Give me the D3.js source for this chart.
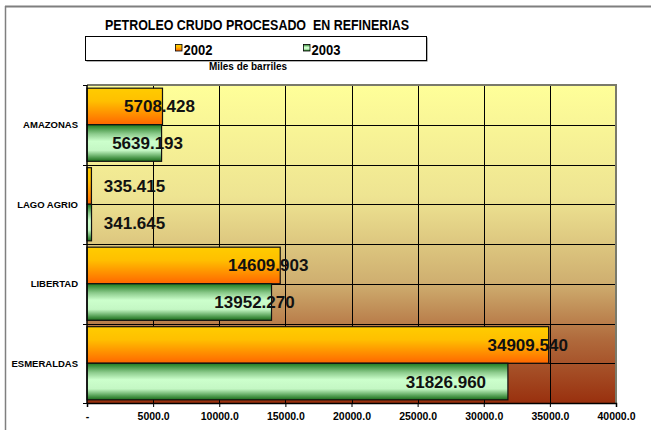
<!DOCTYPE html>
<html>
<head>
<meta charset="utf-8">
<script src="https://cdn.jsdelivr.net/npm/d3@7"></script>
<style>
  html, body { margin: 0; padding: 0; background: #fff; }
  svg { display: block; font-family: "Liberation Sans", Arial, sans-serif; }
</style>
</head>
<body>
<svg id="chart" width="651" height="430"></svg>
<script>
const categories = ["AMAZONAS", "LAGO AGRIO", "LIBERTAD", "ESMERALDAS"];
const seriesNames = ["2002", "2003"];
const values2002 = [5708.428, 335.415, 14609.903, 34909.540];
const values2003 = [5639.193, 341.645, 13952.270, 31826.960];
const tickValues = [0, 5000, 10000, 15000, 20000, 25000, 30000, 35000, 40000];
const tickLabels = ["-", "5000.0", "10000.0", "15000.0", "20000.0", "25000.0", "30000.0", "35000.0", "40000.0"];
const valueLabels2002 = ["5708.428", "335.415", "14609.903", "34909.540"];
const valueLabels2003 = ["5639.193", "341.645", "13952.270", "31826.960"];
// label centre offsets from bar end (layout, as positioned in the original)
const labelShift2002 = [-3, 43, -12, -21];
const labelShift2003 = [-14, 43, -17, -62];

const svg = d3.select("#chart");
const defs = svg.append("defs");

const plot = { left: 87, right: 616, top: 85, bottom: 403 };

// gradients
const bg = defs.append("linearGradient").attr("id", "bg").attr("x1", 0).attr("y1", 0).attr("x2", 0).attr("y2", 1);
[[0, "#FFFF99"], [0.35, "#EEE492"], [0.62, "#CFAF70"], [0.8, "#B06A3C"], [1, "#99300E"]].forEach(([o, c]) =>
  bg.append("stop").attr("offset", o).attr("stop-color", c));

const g02 = defs.append("linearGradient").attr("id", "g2002").attr("x1", 0).attr("y1", 0).attr("x2", 0).attr("y2", 1);
[[0, "#FFCC00"], [0.35, "#FFC000"], [1, "#FF6600"]].forEach(([o, c]) =>
  g02.append("stop").attr("offset", o).attr("stop-color", c));

const g03 = defs.append("linearGradient").attr("id", "g2003").attr("x1", 0).attr("y1", 0).attr("x2", 0).attr("y2", 1);
[[0, "#1F7A1F"], [0.25, "#8CCB8C"], [0.45, "#CCFFCC"], [0.7, "#C4F7C4"], [0.9, "#4E9A4E"], [1, "#1A6B1A"]].forEach(([o, c]) =>
  g03.append("stop").attr("offset", o).attr("stop-color", c));

// outer chart border
svg.append("line").attr("x1", 5).attr("y1", 6.5).attr("x2", 651).attr("y2", 6.5).attr("stroke", "#7f7f7f").attr("stroke-width", 2);
svg.append("line").attr("x1", 5.5).attr("y1", 6).attr("x2", 5.5).attr("y2", 430).attr("stroke", "#7f7f7f").attr("stroke-width", 1.5);

// scales
const x = d3.scaleLinear().domain([0, 40000]).range([plot.left, plot.right]);
const y = d3.scaleBand().domain(categories).range([plot.top, plot.bottom]).paddingInner(0.08).paddingOuter(0.04);
const ySub = d3.scaleBand().domain(seriesNames).range([0, y.bandwidth()]);
const step = (plot.bottom - plot.top) / categories.length;

// background
svg.append("rect").attr("x", plot.left).attr("y", plot.top)
  .attr("width", plot.right - plot.left).attr("height", plot.bottom - plot.top)
  .attr("fill", "url(#bg)");

// vertical gridlines
svg.append("g").selectAll("line").data(tickValues.slice(1)).join("line")
  .attr("x1", d => Math.round(x(d)) + 0.5).attr("x2", d => Math.round(x(d)) + 0.5)
  .attr("y1", plot.top).attr("y2", plot.bottom)
  .attr("stroke", "#000").attr("stroke-width", 1);

// horizontal gridlines at half-category steps
const hLines = d3.range(1, categories.length * 2).map(i => plot.top + i * step / 2);
svg.append("g").selectAll("line").data(hLines).join("line")
  .attr("x1", plot.left).attr("x2", plot.right)
  .attr("y1", d => Math.round(d) + 0.5).attr("y2", d => Math.round(d) + 0.5)
  .attr("stroke", "#000").attr("stroke-width", 1);

// plot border top/right
svg.append("path")
  .attr("d", `M${plot.left},${plot.top} H${plot.right} V${plot.bottom}`)
  .attr("fill", "none").attr("stroke", "#7a7a6a").attr("stroke-width", 2);

// bars
const flat = [];
categories.forEach((c, i) => {
  flat.push({ c, s: "2002", v: values2002[i], label: valueLabels2002[i], dx: labelShift2002[i] });
  flat.push({ c, s: "2003", v: values2003[i], label: valueLabels2003[i], dx: labelShift2003[i] });
});
svg.append("g").selectAll("rect").data(flat).join("rect")
  .attr("x", x(0))
  .attr("y", d => y(d.c) + ySub(d.s))
  .attr("width", d => x(d.v) - x(0))
  .attr("height", ySub.bandwidth())
  .attr("fill", d => d.s === "2002" ? "url(#g2002)" : "url(#g2003)")
  .attr("stroke", "#111").attr("stroke-width", 1.2);

// value labels
svg.append("g").selectAll("text").data(flat).join("text")
  .attr("x", d => x(d.v) + d.dx)
  .attr("y", d => y(d.c) + ySub(d.s) + ySub.bandwidth() / 2 + 6)
  .attr("text-anchor", "middle")
  .attr("font-size", "17px").attr("font-weight", "bold").attr("fill", "#111")
  .text(d => d.label);

// x axis
const xAxis = d3.axisBottom(x).tickValues(tickValues).tickSize(4).tickFormat((d, i) => tickLabels[i]);
const xg = svg.append("g").attr("transform", `translate(0,${plot.bottom})`).call(xAxis);
xg.select(".domain").attr("stroke", "#000").attr("stroke-width", 1.5);
xg.selectAll(".tick line").attr("stroke", "#000");
xg.selectAll(".tick text").attr("font-size", "10.5px").attr("font-weight", "bold")
  .attr("font-family", "Liberation Sans, Arial, sans-serif").attr("fill", "#000").attr("dy", "0.95em");

// y axis line and ticks at category boundaries
svg.append("line").attr("x1", plot.left).attr("x2", plot.left).attr("y1", plot.top).attr("y2", plot.bottom)
  .attr("stroke", "#000").attr("stroke-width", 1.5);
const bounds = d3.range(0, categories.length + 1).map(i => plot.top + i * step);
svg.append("g").selectAll("line").data(bounds).join("line")
  .attr("x1", plot.left - 4).attr("x2", plot.left)
  .attr("y1", d => Math.round(d) + 0.5).attr("y2", d => Math.round(d) + 0.5)
  .attr("stroke", "#000");

// category labels
svg.append("g").selectAll("text").data(categories).join("text")
  .attr("x", 78).attr("y", d => y(d) + y.bandwidth() / 2 + 3.5)
  .attr("text-anchor", "end").attr("font-size", "9.5px").attr("font-weight", "bold").attr("fill", "#000")
  .text(d => d);

// title
svg.append("text").attr("x", 257).attr("y", 29.5).attr("text-anchor", "middle")
  .attr("font-size", "14px").attr("font-weight", "bold").attr("fill", "#000")
  .attr("textLength", 304).attr("lengthAdjust", "spacingAndGlyphs")
  .style("white-space", "pre")
  .text("PETROLEO CRUDO PROCESADO  EN REFINERIAS");

// legend
svg.append("rect").attr("x", 86.5).attr("y", 37.5).attr("width", 341).attr("height", 24)
  .attr("fill", "#666");
svg.append("rect").attr("x", 85.5).attr("y", 36.5).attr("width", 341).attr("height", 24)
  .attr("fill", "#fff").attr("stroke", "#000").attr("stroke-width", 1);
const legendX = [175, 303];
const legendFill = ["url(#g2002)", "url(#g2003)"];
seriesNames.forEach((s, i) => {
  svg.append("rect").attr("x", legendX[i] + 0.5).attr("y", 44.5).attr("width", 6.5).attr("height", 6.5)
    .attr("fill", legendFill[i]).attr("stroke", "#000").attr("stroke-width", 0.8);
  svg.append("text").attr("x", legendX[i] + 8.5).attr("y", 55).attr("font-size", "14px").attr("font-weight", "bold")
    .attr("fill", "#000").attr("textLength", 29).attr("lengthAdjust", "spacingAndGlyphs").text(s);
});

svg.append("text").attr("x", 248).attr("y", 69.5).attr("text-anchor", "middle")
  .attr("font-size", "10px").attr("font-weight", "bold").attr("fill", "#000")
  .attr("textLength", 78).attr("lengthAdjust", "spacingAndGlyphs")
  .text("Miles de barriles");
</script>
</body>
</html>
